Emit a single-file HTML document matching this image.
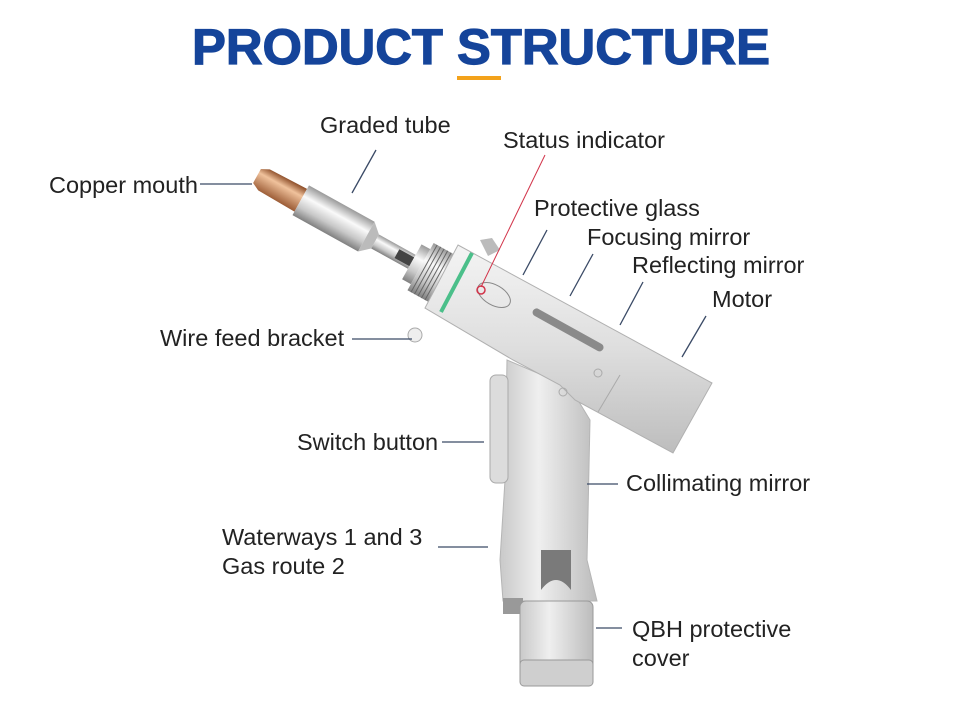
<!DOCTYPE html>
<html><head><meta charset="utf-8"><style>
html,body{margin:0;padding:0;background:#fff;}
svg{display:block;}
text{font-family:"Liberation Sans",Arial,sans-serif;}
</style></head><body>
<svg width="960" height="707" viewBox="0 0 960 707" xmlns="http://www.w3.org/2000/svg">
<defs>
<linearGradient id="m" x1="0" y1="0" x2="0" y2="1">
<stop offset="0" stop-color="#f4f4f4"/><stop offset="0.5" stop-color="#dedede"/><stop offset="1" stop-color="#bdbdbd"/></linearGradient>
<linearGradient id="t" x1="0" y1="0" x2="0" y2="1">
<stop offset="0" stop-color="#9a9a9a"/><stop offset="0.35" stop-color="#fafafa"/><stop offset="0.7" stop-color="#c8c8c8"/><stop offset="1" stop-color="#808080"/></linearGradient>
<linearGradient id="g" x1="0" y1="0" x2="1" y2="0">
<stop offset="0" stop-color="#c9c9c9"/><stop offset="0.4" stop-color="#efefef"/><stop offset="1" stop-color="#bcbcbc"/></linearGradient>
<linearGradient id="c" x1="0" y1="0" x2="0" y2="1">
<stop offset="0" stop-color="#8a4a25"/><stop offset="0.35" stop-color="#f0c29c"/><stop offset="1" stop-color="#9a5a34"/></linearGradient>
</defs>
<text x="192" y="64" font-size="50" font-weight="bold" fill="#15449a" stroke="#15449a" stroke-width="1.2" textLength="578" lengthAdjust="spacingAndGlyphs">PRODUCT STRUCTURE</text>
<rect x="457" y="76" width="44" height="4" fill="#f3a21b"/>

<!-- nozzle -->
<g transform="translate(257,176) rotate(29)">
<polygon points="0,-8 8,-12 50,-13 50,13 8,12 0,8" fill="url(#c)"/>
<rect x="50" y="-17" width="75" height="34" fill="url(#t)"/>
<polygon points="125,-17 135,-8 135,8 125,17" fill="#bbb"/>
<rect x="135" y="-8" width="42" height="16" fill="url(#t)"/>
<rect x="160" y="-5" width="17" height="10" fill="#444"/>
<rect x="177" y="-20" width="10" height="40" fill="url(#t)"/>
<rect x="187" y="-27" width="26" height="54" fill="url(#t)"/>
<g stroke="#666" stroke-width="1">
<line x1="191" y1="-27" x2="191" y2="27"/><line x1="195" y1="-27" x2="195" y2="27"/><line x1="199" y1="-27" x2="199" y2="27"/><line x1="203" y1="-27" x2="203" y2="27"/><line x1="207" y1="-27" x2="207" y2="27"/></g>
<rect x="213" y="-22" width="10" height="44" fill="#999"/>
</g>
<!-- grip -->
<polygon points="507,360 570,387 590,420 587,560 597,601 503,601 500,560 505,480" fill="url(#g)" stroke="#b5b5b5" stroke-width="1"/>
<rect x="490" y="375" width="18" height="108" rx="6" fill="#dcdcdc" stroke="#aaa"/>
<path d="M541,550 L571,550 L571,590 Q556,570 541,590 Z" fill="#7a7a7a"/>
<rect x="503" y="598" width="20" height="16" fill="#999"/>
<rect x="520" y="601" width="73" height="85" rx="6" fill="url(#g)" stroke="#999"/>
<rect x="520" y="660" width="73" height="26" rx="4" fill="#cfcfcf" stroke="#999"/>
<!-- barrel -->
<polygon points="458,245 712,383 673,453 575,400 560,385 513,360 425,308" fill="url(#m)" stroke="#b0b0b0" stroke-width="1"/>
<line x1="620" y1="375" x2="598" y2="412" stroke="#aaa"/>
<polygon points="480,240 492,238 500,250 488,256" fill="#bbb"/>
<line x1="472" y1="253" x2="441" y2="312" stroke="#4bbf8a" stroke-width="4"/>
<ellipse cx="494" cy="295" rx="18" ry="10" fill="none" stroke="#888" transform="rotate(30 494 295)"/>
<circle cx="481" cy="290" r="4" fill="none" stroke="#d2344a" stroke-width="1.5"/>
<rect x="535" y="307" width="80" height="8" rx="4" fill="#8a8a8a" transform="rotate(29 535 307)"/>
<circle cx="415" cy="335" r="7" fill="#eee" stroke="#aaa"/>
<circle cx="598" cy="373" r="4" fill="none" stroke="#aaa"/>
<circle cx="563" cy="392" r="4" fill="none" stroke="#aaa"/>

<g font-size="23.5" fill="#222">
<text x="320" y="133">Graded tube</text>
<text x="49" y="193">Copper mouth</text>
<text x="503" y="148">Status indicator</text>
<text x="534" y="216">Protective glass</text>
<text x="587" y="245">Focusing mirror</text>
<text x="632" y="273">Reflecting mirror</text>
<text x="712" y="307">Motor</text>
<text x="160" y="346">Wire feed bracket</text>
<text x="297" y="450">Switch button</text>
<text x="626" y="491">Collimating mirror</text>
<text x="222" y="545">Waterways 1 and 3</text>
<text x="222" y="574">Gas route 2</text>
<text x="632" y="637">QBH protective</text>
<text x="632" y="666">cover</text>
</g>
<g stroke="#3a4a66" stroke-width="1.3">
<line x1="376" y1="150" x2="352" y2="193"/>
<line x1="200" y1="184" x2="252" y2="184"/>
<line x1="547" y1="230" x2="523" y2="275"/>
<line x1="593" y1="254" x2="570" y2="296"/>
<line x1="643" y1="282" x2="620" y2="325"/>
<line x1="706" y1="316" x2="682" y2="357"/>
<line x1="352" y1="339" x2="412" y2="339"/>
<line x1="442" y1="442" x2="484" y2="442"/>
<line x1="587" y1="484" x2="618" y2="484"/>
<line x1="438" y1="547" x2="488" y2="547"/>
<line x1="596" y1="628" x2="622" y2="628"/>
</g>
<line x1="545" y1="155" x2="481" y2="287" stroke="#d2344a" stroke-width="1"/>
</svg>
</body></html>
